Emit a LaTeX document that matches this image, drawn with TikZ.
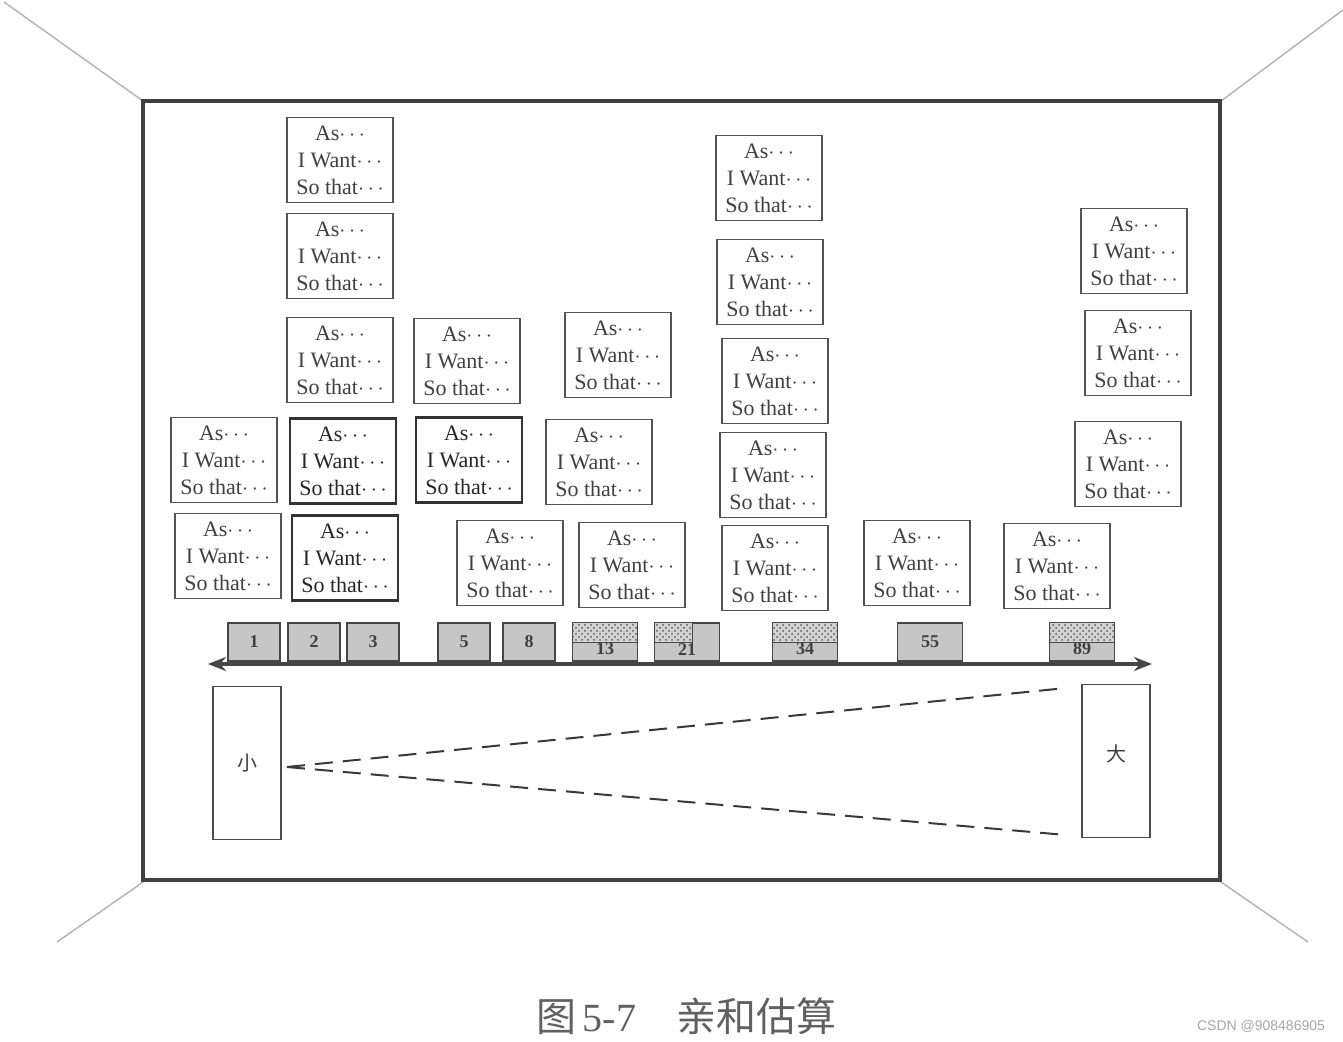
\documentclass[tikz,border=0pt]{standalone}
\usepackage{fontspec}
\setmainfont{Liberation Serif}
\newfontfamily\cjk{Noto Sans CJK SC}
\newfontfamily\wmfont{Liberation Sans}
\usetikzlibrary{arrows.meta,positioning,patterns}

\newcommand{\usertext}{As$\cdots$\\I Want$\cdots$\\So that$\cdots$}

\tikzset{
  card/.style={draw=gray!65!black, line width=0.8pt, fill=white, text=black!75, align=center,
    font=\fontsize{11}{13.5}\selectfont, minimum width=53pt, minimum height=42.5pt, inner sep=1pt, outer sep=0pt},
  cardbold/.style={card, draw=gray!40!black, line width=1.2pt, text=black!85},
  numbox/.style={draw=gray!55!black, line width=0.8pt, fill=gray!45, text=gray!50!black,
    font=\bfseries\small, minimum width=26pt, minimum height=19pt, inner sep=0pt},
  numwide/.style={numbox, minimum width=32.5pt},
  numlow/.style={numwide, text height=13pt},
  tagstrip/.style={draw=gray!55!black, line width=0.6pt, fill=gray!35,
    postaction={pattern=crosshatch dots, pattern color=gray!70!black},
    inner sep=0pt, minimum height=10pt, anchor=north west},
  sidebox/.style={draw=gray!60!black, line width=0.8pt, minimum width=34pt, minimum height=76.5pt,
    inner sep=0pt, font=\cjk\normalsize, text=gray!50!black},
  wall/.style={draw=gray!60, line width=0.7pt},
  timeline/.style={{Stealth[length=9pt,width=7pt]}-{Stealth[length=9pt,width=7pt]}, line width=2pt, draw=gray!55!black},
  estimate/.style={draw=gray!45!black, line width=1pt, dash pattern=on 9pt off 5pt}
}

\begin{document}
\begin{tikzpicture}[x=0.5pt, y=-0.5pt]
    \useasboundingbox (0,0) rectangle (1343,1042);

    \draw[wall] (4,2) -- (143,101);
    \draw[wall] (1343,10) -- (1221,101);
    \draw[wall] (57,942) -- (146,880);
    \draw[wall] (1308,942) -- (1218,880);
    \draw[line width=1.6pt, gray!50!black] (143,101) rectangle (1220,880);

    \node[card] (c1b) at (228,556) {\usertext};
    \node[card, above=5.5pt of c1b, xshift=-2pt] (c1a) {\usertext};

    \node[cardbold] (c2e) at (345,558) {\usertext};
    \node[cardbold, above=6pt of c2e, xshift=-1pt] (c2d) {\usertext};
    \node[card, above=8pt of c2d, xshift=-1.5pt] (c2c) {\usertext};
    \node[card, above=9.5pt of c2c] (c2b) {\usertext};
    \node[card, above=5.5pt of c2b] (c2a) {\usertext};

    \node[card] (c3c) at (510,563) {\usertext};
    \node[cardbold] (c3b) at (469,460) {\usertext};
    \node[card, above=7pt of c3b, xshift=-1pt] (c3a) {\usertext};

    \node[card] (c4c) at (632,565) {\usertext};
    \node[card] (c4b) at (599,462) {\usertext};
    \node[card] (c4a) at (618,355) {\usertext};

    \node[card] (c5e) at (775,568) {\usertext};
    \node[card, above=4pt of c5e, xshift=-1pt] (c5d) {\usertext};
    \node[card, above=4.5pt of c5d, xshift=1pt] (c5c) {\usertext};
    \node[card, above=7pt of c5c, xshift=-2.5pt] (c5b) {\usertext};
    \node[card, above=9.5pt of c5b, xshift=-0.5pt] (c5a) {\usertext};

    \node[card] (c6) at (917,563) {\usertext};
    \node[card] (c7) at (1057,566) {\usertext};

    \node[card] (c8c) at (1128,464) {\usertext};
    \node[card, above=13pt of c8c, xshift=5pt] (c8b) {\usertext};
    \node[card, above=8.5pt of c8b, xshift=-2pt] (c8a) {\usertext};

    \node[numbox] (n1) at (254,642) {1};
    \node[numbox] (n2) at (314,642) {2};
    \node[numbox] (n3) at (373,642) {3};
    \node[numbox] (n5) at (464,642) {5};
    \node[numbox] (n8) at (529,642) {8};
    \node[numlow] (n13) at (605,642) {13};
    \node[numlow] (n21) at (687,642) {21};
    \node[numlow] (n34) at (805,642) {34};
    \node[numwide] (n55) at (930,642) {55};
    \node[numlow] (n89) at (1082,642) {89};

    \node[tagstrip, minimum width=32.5pt] (t13) at (n13.north west) {};
    \node[tagstrip, minimum width=19pt] (t21) at (n21.north west) {};
    \node[tagstrip, minimum width=32.5pt] (t34) at (n34.north west) {};
    \node[tagstrip, minimum width=32.5pt] (t89) at (n89.north west) {};

    \coordinate (axl) at (208,664);
    \coordinate (axr) at (1152,664);
    \draw[timeline] (axl) -- (axr);

    \node[sidebox] (small) at (247,763) {小};
    \node[sidebox] (big) at (1116,761) {\raisebox{8pt}{大}};

    \coordinate (apex) at (287,767);
    \coordinate (bigtop) at (1066,688);
    \coordinate (bigbot) at (1066,835);
    \draw[estimate] (apex) -- (bigtop);
    \draw[estimate] (apex) -- (bigbot);

    \node[font=\fontsize{20}{24}\selectfont, text=gray!75!black] (caption) at (686,1016) {{\cjk 图}\,5-7\quad{\cjk 亲和估算}};
    \node[font=\wmfont\fontsize{7}{8}\selectfont, text=gray!70] (mark) at (1261,1026) {CSDN @908486905};
  \end{tikzpicture}
\end{document}
